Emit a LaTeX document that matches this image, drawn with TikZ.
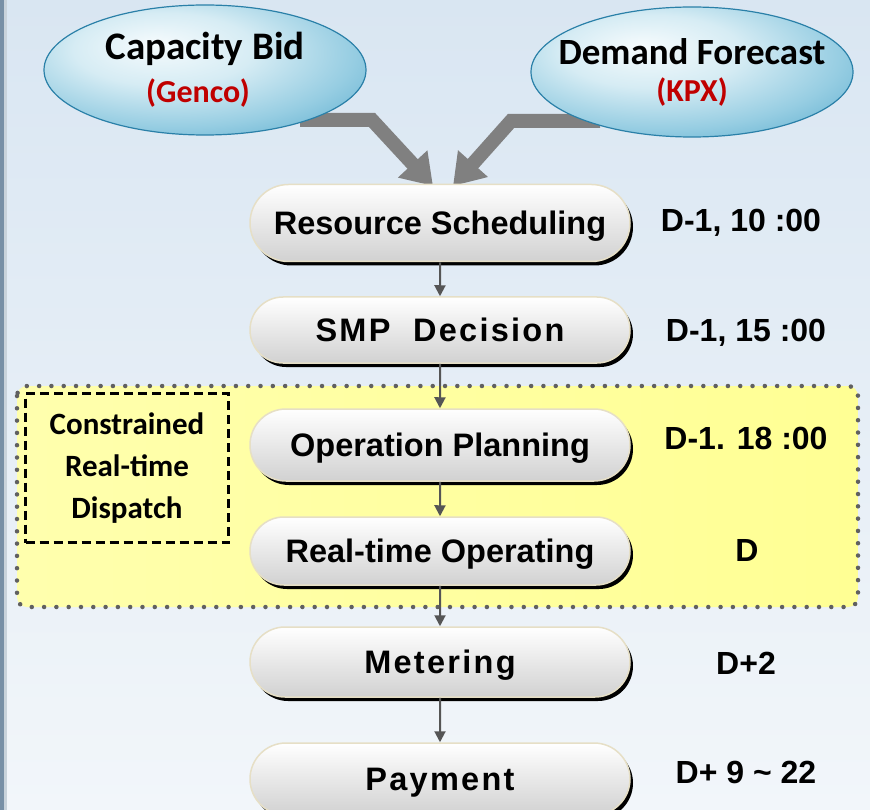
\documentclass[tikz,border=0pt]{standalone}
\usepackage{fontspec}
\setmainfont{Liberation Sans}
\newfontfamily\widefont{Liberation Sans}[LetterSpace=7]
\newfontfamily\calfont{Carlito}
\usetikzlibrary{shapes.geometric,shapes.misc,shadows,arrows.meta}

\definecolor{bgtop}{HTML}{D9E6F2}
\definecolor{bgbot}{HTML}{F2F6FA}
\definecolor{edge}{HTML}{7890A6}
\definecolor{genred}{HTML}{C00000}
\definecolor{gla}{HTML}{F6FBFD}
\definecolor{glb}{HTML}{D6ECF4}
\definecolor{glc}{HTML}{96CDE2}
\definecolor{gld}{HTML}{4FA6CA}
\definecolor{rim}{HTML}{2A80A8}
\definecolor{pillrim}{HTML}{E6DFC6}
\definecolor{dotgray}{HTML}{606060}
\definecolor{fatgray}{HTML}{808080}
\definecolor{thingray}{HTML}{555555}

\pgfdeclareradialshading{glossy}{\pgfpoint{-8bp}{10bp}}{%
  color(0bp)=(gla); color(14bp)=(glb); color(28bp)=(glc);
  color(42bp)=(gld); color(52bp)=(rim); color(70bp)=(rim)}

\tikzset{
  bubble/.style={ellipse, shading=glossy, draw=rim, line width=1.2pt,
    minimum width=322pt, minimum height=130pt, align=center,
    inner xsep=-32pt, inner ysep=-15pt},
  pill/.style={rounded rectangle, draw=pillrim, line width=1.5pt,
    top color=white, bottom color=black!18,
    minimum width=380pt, minimum height=72pt, inner sep=0pt,
    text height=23pt, text depth=0pt,
    font=\fontsize{32.5}{36}\selectfont\bfseries,
    drop shadow={shadow xshift=3pt, shadow yshift=-4pt, fill=black, opacity=1}},
  when/.style={text height=23pt, text depth=0pt,
    font=\fontsize{32}{36}\selectfont\bfseries},
  fatarrow/.style={draw=fatgray, line width=14pt,
    -{Triangle[width=38pt,length=30pt]}},
  steparrow/.style={draw=thingray, line width=2pt,
    -{Triangle[width=11pt,length=11pt]}},
}

\begin{document}
\begin{tikzpicture}[x=1pt, y=-1pt]

\useasboundingbox (0,0) rectangle (870,810);

% background
\shade[top color=bgtop, bottom color=bgbot] (0,0) rectangle (870,810);
\fill[edge] (0,0) rectangle (4,810);
\fill[edge!40!white] (4,0) rectangle (7,810);

% constrained dispatch zone
\shade[left color=yellow!32, middle color=yellow!10, right color=yellow!42,
  rounded corners=10pt] (17,386) rectangle (858,607);
\draw[dotgray, line width=4.5pt, line cap=round, dash pattern=on 0pt off 12.3pt,
  rounded corners=10pt] (17,386) rectangle (858,607);

\node[draw, dashed, line width=2.8pt, dash pattern=on 9pt off 5pt,
  minimum width=203pt, minimum height=149pt, align=center,
  font=\calfont\bfseries\fontsize{31}{42}\selectfont] (crd) at (127,468)
  {Constrained\\Real-time\\Dispatch};

% inputs
\coordinate (lstart) at (300,120);
\coordinate (lbend) at (372,120);
\coordinate (ltip) at (433,186);
\coordinate (rstart) at (600,121);
\coordinate (rbend) at (511,121);
\coordinate (rtip) at (453,186);

\draw[fatarrow] (lstart) -- (lbend) -- (ltip);
\draw[fatarrow] (rstart) -- (rbend) -- (rtip);

\node[bubble] (bid) at (205,70)
  {\calfont\bfseries\fontsize{39}{45}\selectfont Capacity Bid\hspace{14pt}\\[12pt]
   \calfont\bfseries\fontsize{32}{36}\selectfont\color{genred}(Genco)\hspace{14pt}};
\node[bubble] (fcst) at (692,72)
  {\calfont\bfseries\fontsize{37}{45}\selectfont Demand Forecast\\[12pt]
   \calfont\bfseries\fontsize{32}{36}\selectfont\color{genred}(KPX)};

% process steps
\node[pill, minimum height=77pt] (sched) at (440,223) {Resource Scheduling};
\node[pill, minimum height=66pt] (smp) at (440,330) {\widefont SMP~~Decision};
\node[pill] (plan) at (440,445) {Operation Planning};
\node[pill, minimum height=68pt] (rto) at (440,551) {Real-time Operating};
\node[pill, minimum height=70pt] (meter) at (440,662) {\widefont Metering};
\node[pill] (pay) at (440,779) {\widefont Payment};

\draw[steparrow] (sched) -- (smp);
\draw[steparrow] (smp) -- (plan);
\draw[steparrow] (plan) -- (rto);
\draw[steparrow] (rto) -- (meter);
\draw[steparrow] (meter) -- (pay);

% timing
\node[when] (t1) at (741,220) {D-1, 10 :00};
\node[when] (t2) at (746,330) {D-1, 15 :00};
\node[when] (t3) at (746,438) {D-1. 18 :00};
\node[when] (t4) at (747,550) {D};
\node[when] (t5) at (746,663) {D+2};
\node[when] (t6) at (746,772) {D+ 9 \textasciitilde{} 22};

\end{tikzpicture}
\end{document}
